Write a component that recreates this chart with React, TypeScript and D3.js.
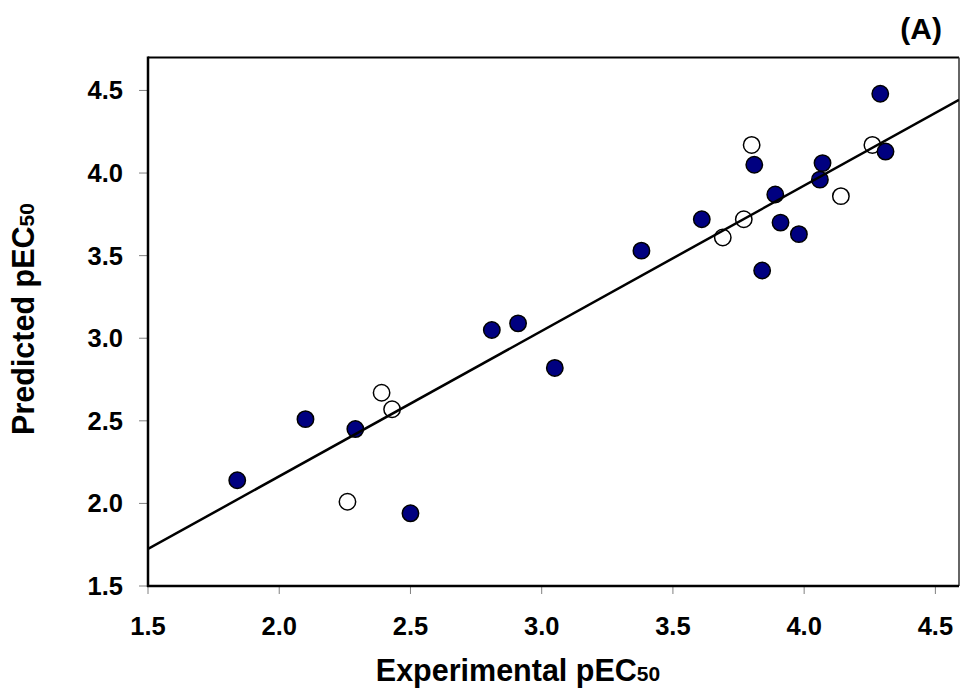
import React from "react";
import * as d3 from "d3";

const trainX = [1.84, 2.10, 2.29, 2.50, 2.81, 2.91, 3.05, 3.38, 3.61, 3.81, 3.84, 3.89, 3.91, 3.98, 4.06, 4.07, 4.29, 4.31];
const trainY = [2.14, 2.51, 2.45, 1.94, 3.05, 3.09, 2.82, 3.53, 3.72, 4.05, 3.41, 3.87, 3.70, 3.63, 3.96, 4.06, 4.48, 4.13];
const testX = [2.26, 2.39, 2.43, 3.69, 3.77, 3.80, 4.14, 4.26];
const testY = [2.01, 2.67, 2.57, 3.61, 3.72, 4.17, 3.86, 4.17];
const xTicks = [1.5, 2.0, 2.5, 3.0, 3.5, 4.0, 4.5];
const yTicks = [1.5, 2.0, 2.5, 3.0, 3.5, 4.0, 4.5];
const fitSlope = 0.88;
const fitIntercept = 0.404;
const xDomain = [1.5, 4.59];
const yDomain = [1.5, 4.7];

const FONT = "Arial, 'Liberation Sans', sans-serif";

export default function App() {
  const x = d3.scaleLinear().domain(xDomain).range([148, 959]);
  const y = d3.scaleLinear().domain(yDomain).range([586, 57.4]);
  const [x0, x1] = x.range();
  const [yb, yt] = y.range();
  const fitLine = d3
    .line<number>()
    .x((d) => x(d))
    .y((d) => y(fitSlope * d + fitIntercept));
  const fmt = d3.format(".1f");
  return (
    <svg
      width={960}
      height={695}
      style={{ position: "absolute", left: 0, top: 0, background: "#fff" }}
      fontFamily={FONT}
    >
      <rect x={0} y={0} width={960} height={695} fill="#fff" />
      {/* frame */}
      <line x1={x0} x2={x1} y1={yt} y2={yt} stroke="#000" strokeWidth={2} />
      <line x1={x1} x2={x1} y1={yt} y2={yb} stroke="#333" strokeWidth={1.5} />
      {/* ticks */}
      {xTicks.map((t) => (
        <g key={"xt" + t}>
          <line x1={x(t)} x2={x(t)} y1={yb} y2={yb + 8} stroke="#808080" strokeWidth={1} />
          <text x={x(t)} y={635} textAnchor="middle" fontSize={25.5} fontWeight="bold" fill="#000">
            {fmt(t)}
          </text>
        </g>
      ))}
      {yTicks.map((t) => (
        <g key={"yt" + t}>
          <line x1={x0 - 9} x2={x0} y1={y(t)} y2={y(t)} stroke="#808080" strokeWidth={1} />
          <text x={123} y={y(t) + 9} textAnchor="end" fontSize={25.5} fontWeight="bold" fill="#000">
            {fmt(t)}
          </text>
        </g>
      ))}
      {/* points */}
      <g clipPath="url(#plotclip)">
        {testX.map((v, i) => (
          <circle key={"o" + i} cx={x(v)} cy={y(testY[i])} r={8.2} fill="#fff" stroke="#000" strokeWidth={1.5} />
        ))}
        {trainX.map((v, i) => (
          <circle key={"f" + i} cx={x(v)} cy={y(trainY[i])} r={8.2} fill="#000080" stroke="#000" strokeWidth={1.5} />
        ))}
        <path d={fitLine([xDomain[0], xDomain[1]]) || ""} fill="none" stroke="#000" strokeWidth={2.5} />
      </g>
      <defs>
        <clipPath id="plotclip">
          <rect x={x0} y={yt} width={x1 - x0} height={yb - yt} />
        </clipPath>
      </defs>
      {/* axes */}
      <line x1={x0} x2={x0} y1={yt - 1} y2={yb + 1} stroke="#000" strokeWidth={2.5} />
      <line x1={x0 - 1} x2={x1} y1={yb} y2={yb} stroke="#000" strokeWidth={2.5} />
      {/* titles */}
      <text x={518} y={681} textAnchor="middle" fontSize={30.5} fontWeight="bold" fill="#000">
        Experimental pEC<tspan fontSize={21}>50</tspan>
      </text>
      <text
        transform="translate(34,319) rotate(-90)"
        textAnchor="middle"
        fontSize={30.5}
        fontWeight="bold"
        fill="#000"
      >
        Predicted pEC<tspan fontSize={21}>50</tspan>
      </text>
      <text x={942} y={39} textAnchor="end" fontSize={30} fontWeight="bold" fill="#000">
        (A)
      </text>
    </svg>
  );
}
